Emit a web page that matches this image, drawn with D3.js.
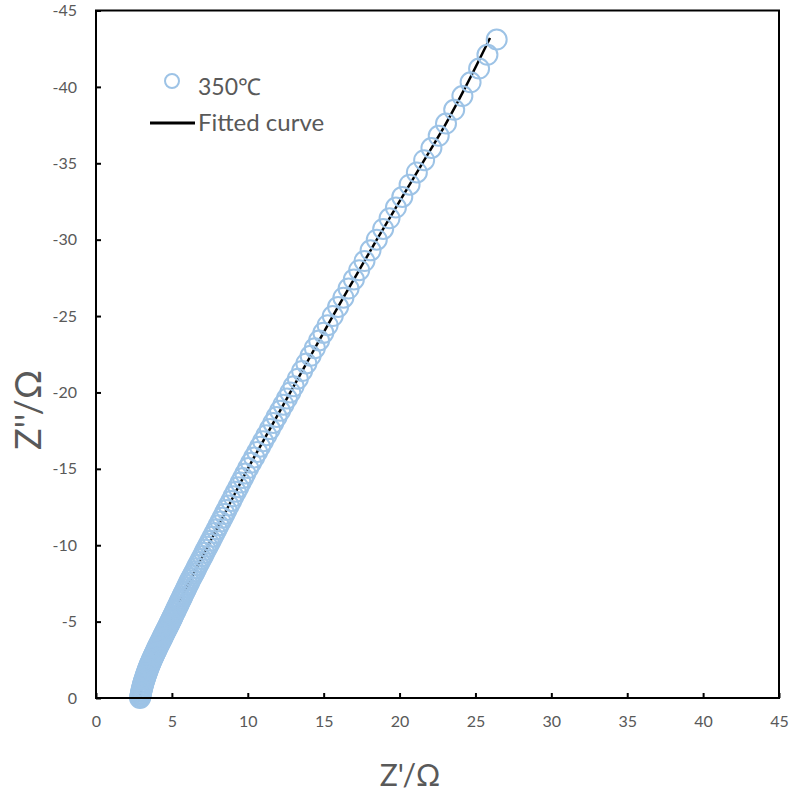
<!DOCTYPE html>
<html>
<head>
<meta charset="utf-8">
<script src="https://cdn.jsdelivr.net/npm/d3@7"></script>
<style>
  body { margin: 0; background: #fff; }
  svg { display: block; }
  text { font-family: Lato, "Open Sans", sans-serif; fill: #595959; }
</style>
</head>
<body>
<svg id="chart" width="790" height="801"></svg>
<script>
// measured impedance at 350 C (Z' and Z'')
const zRe = [
  26.40, 25.79, 25.24, 24.68, 24.14, 23.60, 23.06, 22.58, 22.10, 21.62,
  21.14, 20.66, 20.18, 19.76, 19.34, 18.92, 18.50, 18.09, 17.69, 17.34,
  16.99, 16.64, 16.30, 15.95, 15.60, 15.26, 14.98, 14.70, 14.42, 14.14,
  13.86, 13.58, 13.30, 13.02, 12.80,
  12.58, 12.35, 12.13, 11.90, 11.68, 11.46, 11.23, 11.01, 10.81, 10.62,
  10.42, 10.22, 10.03, 9.84, 9.69, 9.53, 9.38, 9.22, 9.06, 8.91,
  8.75, 8.60, 8.47, 8.34, 8.21, 8.08, 7.95, 7.82, 7.69, 7.56, 7.45,
  7.35, 7.24, 7.14, 7.04, 6.93, 6.83, 6.72, 6.62, 6.52, 6.44,
  6.36, 6.28, 6.20, 6.13, 6.05, 5.98, 5.91, 5.84, 5.76, 5.69,
  5.62, 5.56, 5.50, 5.45, 5.39, 5.33, 5.27, 5.22, 5.16, 5.10,
  5.04, 5.00, 4.95, 4.90,
  4.85, 4.80, 4.75, 4.70, 4.65, 4.60, 4.55, 4.50, 4.45, 4.40,
  4.35, 4.30, 4.25, 4.20, 4.15, 4.10, 4.05, 4.01, 3.96, 3.91,
  3.86, 3.82, 3.77, 3.73, 3.68,
  3.64, 3.60, 3.55, 3.51, 3.47, 3.43, 3.40, 3.36, 3.33, 3.29,
  3.26, 3.23, 3.19, 3.16, 3.13, 3.10, 3.08, 3.05, 3.03, 3.00,
  2.98, 2.96, 2.94, 2.92, 2.90
];
const zIm = [
  -43.1, -42.1, -41.2, -40.3, -39.4, -38.5, -37.6, -36.8, -36.0, -35.2,
  -34.4, -33.6, -32.8, -32.1, -31.4, -30.7, -30.0, -29.3, -28.6, -28.0,
  -27.4, -26.8, -26.2, -25.6, -25.0, -24.4, -23.9, -23.4, -22.9, -22.4,
  -21.9, -21.4, -20.9, -20.4, -20.0,
  -19.6, -19.2, -18.8, -18.4, -18.0, -17.6, -17.2, -16.8, -16.45, -16.1,
  -15.75, -15.4, -15.05, -14.7, -14.4, -14.1, -13.8, -13.5, -13.2, -12.9,
  -12.6, -12.3, -12.05, -11.8, -11.55, -11.3, -11.05, -10.8, -10.55, -10.3, -10.1,
  -9.9, -9.7, -9.5, -9.3, -9.1, -8.9, -8.7, -8.5, -8.3, -8.15,
  -8.0, -7.85, -7.7, -7.55, -7.4, -7.25, -7.1, -6.95, -6.8, -6.65,
  -6.5, -6.38, -6.26, -6.14, -6.02, -5.9, -5.78, -5.66, -5.54, -5.42,
  -5.3, -5.2, -5.1, -5.0,
  -4.9, -4.8, -4.7, -4.6, -4.5, -4.4, -4.3, -4.2, -4.1, -4.0,
  -3.9, -3.8, -3.7, -3.6, -3.5, -3.4, -3.3, -3.2, -3.1, -3.0,
  -2.9, -2.8, -2.7, -2.6, -2.5,
  -2.4, -2.3, -2.2, -2.1, -2.0, -1.9, -1.8, -1.7, -1.6, -1.5,
  -1.4, -1.3, -1.2, -1.1, -1.0, -0.9, -0.8, -0.7, -0.6, -0.5,
  -0.4, -0.3, -0.2, -0.1, 0.0
];

// fitted equivalent-circuit curve
const fitRe = [2.90, 3.13, 3.68, 4.90, 6.10, 7.40, 8.70, 10.00, 11.40, 12.80,
               14.20, 15.60, 17.05, 18.50, 20.00, 21.50, 23.00, 24.35, 25.96];
const fitIm = [0, -1, -2.5, -5, -7.5, -10, -12.5, -15, -17.5, -20,
               -22.5, -25, -27.5, -30, -32.5, -35, -37.5, -40, -43.2];

const xTicks = [0, 5, 10, 15, 20, 25, 30, 35, 40, 45];
const yTicks = [0, -5, -10, -15, -20, -25, -30, -35, -40, -45];
const seriesName = "350℃";
const fitName = "Fitted curve";

const svg = d3.select("#chart");
const plotL = 96, plotR = 779, plotT = 10.5, plotB = 698;

const x = d3.scaleLinear().domain([0, 45]).range([plotL, plotR]);
const y = d3.scaleLinear().domain([0, -45]).range([plotB, plotT]);

const markerColor = "#9dc3e6";

// axes
const gx = svg.append("g")
    .attr("transform", `translate(0,${plotB})`)
    .call(d3.axisBottom(x).tickValues(xTicks).tickFormat(d => String(d))
        .tickSizeInner(-5).tickSizeOuter(0).tickPadding(18));
const gy = svg.append("g")
    .attr("transform", `translate(${plotL},0)`)
    .call(d3.axisLeft(y).tickValues(yTicks).tickFormat(d => String(d))
        .tickSizeInner(-5).tickSizeOuter(0).tickPadding(19));

[gx, gy].forEach(g => {
  g.select(".domain").remove();
  g.selectAll(".tick line").attr("stroke", "#000").attr("stroke-width", 2);
  g.selectAll(".tick text")
    .style("font-size", "16px")
    .style("font-family", "Lato, 'Open Sans', sans-serif")
    .attr("fill", "#595959");
});

// fitted line under markers
const pts = fitRe.map((d, i) => [d, fitIm[i]]);
svg.append("path")
    .datum(pts)
    .attr("fill", "none")
    .attr("stroke", "#000")
    .attr("stroke-width", 2.5)
    .attr("d", d3.line().x(d => x(d[0])).y(d => y(d[1])).curve(d3.curveCatmullRom));

// data markers
svg.append("g")
  .selectAll("circle")
  .data(zRe.map((d, i) => ({re: d, im: zIm[i]})))
  .join("circle")
    .attr("cx", d => x(d.re))
    .attr("cy", d => y(d.im))
    .attr("r", 10)
    .attr("fill", "none")
    .attr("stroke", markerColor)
    .attr("stroke-width", 2);

// plot frame
svg.append("rect")
    .attr("x", plotL).attr("y", plotT)
    .attr("width", plotR - plotL).attr("height", plotB - plotT)
    .attr("fill", "none")
    .attr("stroke", "#000")
    .attr("stroke-width", 2);

// axis titles
svg.append("text")
    .attr("x", 410).attr("y", 786)
    .attr("text-anchor", "middle")
    .style("font-size", "30px")
    .text("Z'/Ω");
svg.append("text")
    .attr("transform", "translate(41,410) rotate(-90)")
    .attr("text-anchor", "middle")
    .style("font-size", "36px")
    .text("Z''/Ω");

// legend
const lg = svg.append("g");
lg.append("circle")
    .attr("cx", 172).attr("cy", 81).attr("r", 7)
    .attr("fill", "none").attr("stroke", markerColor).attr("stroke-width", 2);
lg.append("text")
    .attr("x", 198).attr("y", 95)
    .style("font-size", "23px")
    .text(seriesName);
lg.append("line")
    .attr("x1", 150).attr("x2", 195).attr("y1", 123).attr("y2", 123)
    .attr("stroke", "#000").attr("stroke-width", 3);
lg.append("text")
    .attr("x", 198).attr("y", 131)
    .style("font-size", "24px")
    .text(fitName);
</script>
</body>
</html>
